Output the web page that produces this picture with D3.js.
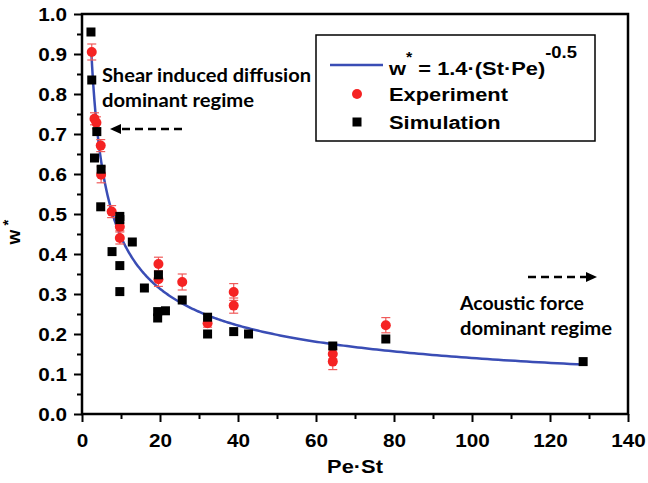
<!DOCTYPE html>
<html><head><meta charset="utf-8">
<script src="https://cdn.jsdelivr.net/npm/d3@7"></script>
<style>
html,body{margin:0;padding:0;background:#fff;}
svg{display:block;}
</style></head>
<body>
<svg id="chart" width="648" height="483"></svg>
<script>
// ---- data ----
const xTicks = [0, 20, 40, 60, 80, 100, 120, 140];
const xMinorTicks = [10, 30, 50, 70, 90, 110, 130];
const yTicks = [0, 0.1, 0.2, 0.3, 0.4, 0.5, 0.6, 0.7, 0.8, 0.9, 1.0];
const yMinorTicks = [0.05, 0.15, 0.25, 0.35, 0.45, 0.55, 0.65, 0.75, 0.85, 0.95];

const expX   = [2.5, 3.2, 3.7, 4.8, 4.9, 7.6, 9.7, 9.7, 19.6, 19.6, 25.7, 32.2, 38.9, 38.9, 64.3, 64.3, 77.9];
const expY   = [0.905, 0.738, 0.728, 0.671, 0.598, 0.506, 0.468, 0.440, 0.375, 0.337, 0.330, 0.227, 0.305, 0.271, 0.150, 0.131, 0.222];
const expErr = [0.020, 0.015, 0.015, 0.015, 0.020, 0.015, 0.010, 0.015, 0.017, 0.018, 0.020, 0.010, 0.021, 0.019, 0.012, 0.020, 0.019];

const simX = [2.3, 2.5, 3.8, 3.2, 4.9, 4.8, 9.7, 9.7, 12.9, 7.7, 9.7, 19.6, 16.0, 9.7, 25.7, 19.4, 21.4, 19.4, 32.2, 32.2, 38.9, 42.7, 64.3, 77.9, 128.5];
const simY = [0.955, 0.835, 0.706, 0.640, 0.612, 0.518, 0.494, 0.486, 0.430, 0.406, 0.371, 0.348, 0.315, 0.306, 0.285, 0.256, 0.258, 0.240, 0.242, 0.200, 0.206, 0.200, 0.170, 0.1875, 0.131];

// fitted model from the legend: w* = 1.4·(St·Pe)^-0.5
const fitCoef = 1.4, fitExp = -0.5;
const fitXStart = 2.4, fitXEnd = 128.5;

const legendLabels = ["Experiment", "Simulation"];

// ---- drawing ----
const svg = d3.select("#chart");
const SX = 1.15;
const FONT = "'Liberation Sans', Arial, Helvetica, sans-serif";
const AFONT = "Lato, 'Open Sans', sans-serif";

const x = d3.scaleLinear().domain([0, 140]).range([82, 628]);
const y = d3.scaleLinear().domain([0, 1]).range([414, 14]);

// fit curve
const fitPts = d3.range(0, 301).map(i => {
  const v = fitXStart * Math.pow(fitXEnd / fitXStart, i / 300);
  return [v, fitCoef * Math.pow(v, fitExp)];
});
svg.append("path")
  .datum(fitPts)
  .attr("fill", "none")
  .attr("stroke", "#3a4db5")
  .attr("stroke-width", 2.5)
  .attr("d", d3.line().x(d => x(d[0])).y(d => y(d[1])));

// experiment error bars
const expData = expX.map((v, i) => ({x: v, y: expY[i], e: expErr[i]}));
const eb = svg.append("g").attr("stroke", "#f05a5a").attr("stroke-width", 1.2);
expData.forEach(d => {
  eb.append("line").attr("x1", x(d.x)).attr("x2", x(d.x)).attr("y1", y(d.y - d.e)).attr("y2", y(d.y + d.e));
  [d.y - d.e, d.y + d.e].forEach(v => {
    eb.append("line").attr("x1", x(d.x) - 4.5).attr("x2", x(d.x) + 4.5).attr("y1", y(v)).attr("y2", y(v));
  });
});
svg.append("g").selectAll("circle").data(expData).join("circle")
  .attr("cx", d => x(d.x)).attr("cy", d => y(d.y)).attr("r", 5)
  .attr("fill", "#f52323");

// simulation squares
const simData = simX.map((v, i) => ({x: v, y: simY[i]}));
const sq = 9;
svg.append("g").selectAll("rect").data(simData).join("rect")
  .attr("x", d => x(d.x) - sq / 2).attr("y", d => y(d.y) - sq / 2)
  .attr("width", sq).attr("height", sq).attr("fill", "#000");

// axes
function styleAxis(g) {
  g.select(".domain").remove();
  g.selectAll(".tick line").attr("stroke", "#000").attr("stroke-width", 2);
  g.selectAll("text").attr("font-family", FONT).attr("font-weight", "bold").attr("font-size", 18).attr("fill", "#000");
}
const xAxis = svg.append("g").attr("transform", "translate(0,414)")
  .call(d3.axisBottom(x).tickValues(xTicks).tickSize(8).tickFormat(d3.format("d")));
styleAxis(xAxis);
xAxis.selectAll("text").attr("y", 33).attr("dy", 0).attr("transform", `scale(${SX},1)`);
const xMinor = svg.append("g").attr("transform", "translate(0,414)")
  .call(d3.axisBottom(x).tickValues(xMinorTicks).tickSize(5).tickFormat(""));
styleAxis(xMinor);

const yAxis = svg.append("g").attr("transform", "translate(82,0)")
  .call(d3.axisLeft(y).tickValues(yTicks).tickSize(8).tickFormat(d3.format(".1f")));
styleAxis(yAxis);
yAxis.selectAll("text").attr("x", -15 / SX).attr("dy", "0.36em").attr("transform", `scale(${SX},1)`);
const yMinor = svg.append("g").attr("transform", "translate(82,0)")
  .call(d3.axisLeft(y).tickValues(yMinorTicks).tickSize(5).tickFormat(""));
styleAxis(yMinor);

// frame
svg.append("rect").attr("x", 82).attr("y", 14).attr("width", 546).attr("height", 400)
  .attr("fill", "none").attr("stroke", "#000").attr("stroke-width", 2.5);

// axis titles
svg.append("text").attr("transform", `translate(355,473) scale(${SX},1)`)
  .attr("text-anchor", "middle").attr("font-family", FONT).attr("font-weight", "bold")
  .attr("font-size", 19).text("Pe·St");
const yt = svg.append("text").attr("transform", `translate(20,232) rotate(-90)`)
  .attr("text-anchor", "middle").attr("font-family", FONT).attr("font-weight", "bold")
  .attr("font-size", 19);
yt.append("tspan").text("w");
yt.append("tspan").attr("dy", -7).attr("font-size", 15).text(" *");

// legend
const lg = svg.append("g");
lg.append("rect").attr("x", 316).attr("y", 35).attr("width", 279).attr("height", 106)
  .attr("fill", "#fff").attr("stroke", "#000").attr("stroke-width", 1.5);
lg.append("line").attr("x1", 330).attr("x2", 383).attr("y1", 65).attr("y2", 65)
  .attr("stroke", "#3a4db5").attr("stroke-width", 2.5);
const eq = lg.append("text").attr("transform", `translate(389,75) scale(${SX},1)`)
  .attr("font-family", FONT).attr("font-weight", "bold").attr("font-size", 19);
eq.append("tspan").text("w");
eq.append("tspan").attr("font-size", 14).attr("dy", -13).text("*");
eq.append("tspan").attr("dy", 13).text(" = 1.4·(St·Pe)");
eq.append("tspan").attr("font-size", 16).attr("dy", -17).text("-0.5");
lg.append("circle").attr("cx", 357).attr("cy", 94).attr("r", 5).attr("fill", "#f52323");
lg.append("rect").attr("x", 357 - 4.5).attr("y", 122 - 4.5).attr("width", 9).attr("height", 9).attr("fill", "#000");
[[101, legendLabels[0]], [129, legendLabels[1]]].forEach(([yy, t]) => {
  lg.append("text").attr("transform", `translate(389,${yy}) scale(${SX},1)`)
    .attr("font-family", FONT).attr("font-weight", "bold").attr("font-size", 19).text(t);
});

// annotations
function ann(xx, yy, t, w) {
  svg.append("text").attr("x", xx).attr("y", yy)
    .attr("font-family", AFONT).attr("font-weight", "bold").attr("font-size", 18.5)
    .attr("textLength", w).attr("lengthAdjust", "spacingAndGlyphs").text(t);
}
ann(102, 82, "Shear induced diffusion", 209);
ann(102, 107, "dominant regime", 152);
ann(460, 310, "Acoustic force", 124);
ann(460, 335, "dominant regime", 152);

function arrow(x1, x2, yy) {
  const dir = Math.sign(x2 - x1);
  svg.append("line").attr("x1", x1).attr("x2", x2 - dir * 8).attr("y1", yy).attr("y2", yy)
    .attr("stroke", "#000").attr("stroke-width", 2.5).attr("stroke-dasharray", "8,5");
  svg.append("path").attr("d", `M${x2},${yy} L${x2 - dir * 11},${yy - 5} L${x2 - dir * 11},${yy + 5} Z`).attr("fill", "#000");
}
arrow(182, 110, 129);
arrow(528, 597, 277);
</script>
</body></html>
